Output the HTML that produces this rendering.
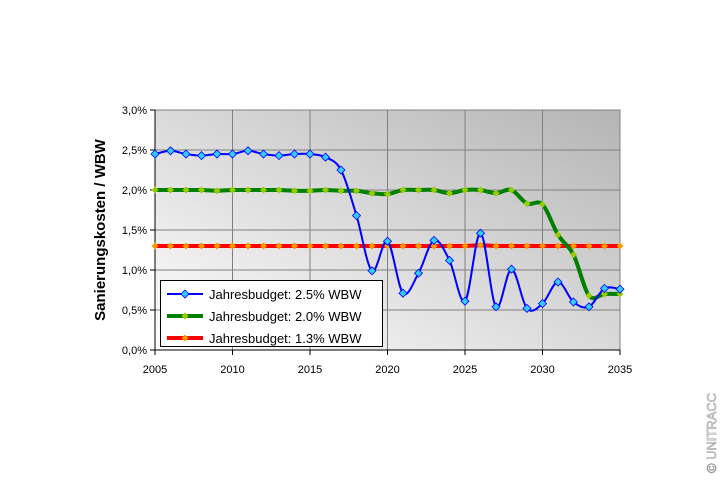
<!DOCTYPE html>
<html><head><meta charset="utf-8"><style>
body{margin:0;background:#fff}
svg{display:block;font-family:"Liberation Sans",Arial,sans-serif}
</style></head><body>
<svg id="s" width="720" height="480" xmlns="http://www.w3.org/2000/svg">
<defs>
<linearGradient id="bg" x1="0" y1="1" x2="1" y2="0">
<stop offset="0" stop-color="#ffffff"/><stop offset="1" stop-color="#b4b4b4"/>
</linearGradient>
</defs>
<rect x="155" y="110" width="465" height="240" fill="url(#bg)"/>
<g id="grid" stroke="#808080" stroke-width="1"></g>
<rect x="155" y="110" width="465" height="240" fill="none" stroke="#808080"/>
<g id="axes" font-size="11" fill="#000"></g>
<g id="series"></g>
<text transform="translate(105,230) rotate(-90)" text-anchor="middle" font-size="15" font-weight="bold">Sanierungskosten / WBW</text>
<rect x="160.5" y="280.5" width="222" height="66" fill="#fff" stroke="#000"/>
<g font-size="13">
<line x1="167" y1="294" x2="203" y2="294" stroke="#0000ff" stroke-width="2"/><path d="M185 290 L189 294 L185 298 L181 294Z" fill="#33ccff" stroke="#0000ff" stroke-width="0.8"/>
<text x="209" y="299">Jahresbudget: 2.5% WBW</text>
<line x1="167" y1="316" x2="203" y2="316" stroke="#008000" stroke-width="4"/><path d="M185 312.5 L188.5 316 L185 319.5 L181.5 316Z" fill="#99cc00"/>
<text x="209" y="321">Jahresbudget: 2.0% WBW</text>
<line x1="167" y1="338" x2="203" y2="338" stroke="#ff0000" stroke-width="4"/><path d="M185 334.5 L188.5 338 L185 341.5 L181.5 338Z" fill="#ff9900"/>
<text x="209" y="343">Jahresbudget: 1.3% WBW</text>
</g>
<text transform="translate(716,473) rotate(-90)" font-size="13" fill="#fff" stroke="#999" stroke-width="0.6" textLength="80">© UNITRACC</text>
</svg>
<script>
const X=y=>155+(y-2005)*15.5, Y=v=>350-v*80, NS="http://www.w3.org/2000/svg";
function el(p,t,a,txt){const e=document.createElementNS(NS,t);for(const k in a)e.setAttribute(k,a[k]);if(txt!=null)e.textContent=txt;p.appendChild(e);return e;}
const g=document.getElementById('grid'),ax=document.getElementById('axes'),s=document.getElementById('series');
for(let i=1;i<6;i++){el(g,'line',{x1:155,x2:620,y1:Y(i*0.5),y2:Y(i*0.5)});}
for(let yr=2010;yr<2035;yr+=5)el(g,'line',{x1:X(yr),x2:X(yr),y1:110,y2:350});
for(let i=0;i<=6;i++){const y=Y(i*0.5);el(ax,'line',{x1:150,x2:155,y1:y,y2:y,stroke:'#000'});el(ax,'text',{x:147,y:y+4,'text-anchor':'end'},(i*0.5).toFixed(1).replace('.',',')+'%');}
el(ax,'line',{x1:155,x2:155,y1:110,y2:350,stroke:'#000'});el(ax,'line',{x1:155,x2:620,y1:350,y2:350,stroke:'#000'});
for(let yr=2005;yr<=2035;yr+=5){el(ax,'line',{x1:X(yr),x2:X(yr),y1:350,y2:355,stroke:'#000'});el(ax,'text',{x:X(yr),y:373,'text-anchor':'middle'},yr);}
const blue=[2.45,2.49,2.45,2.43,2.45,2.45,2.49,2.45,2.43,2.45,2.45,2.41,2.25,1.68,0.99,1.36,0.71,0.96,1.37,1.12,0.61,1.46,0.54,1.01,0.52,0.58,0.85,0.60,0.54,0.77,0.76];
const green=[2,2,2,2,1.99,2,2,2,2,1.99,1.99,2,1.99,1.99,1.96,1.95,2,2,2,1.96,2,2,1.96,2,1.83,1.82,1.44,1.19,0.68,0.7,0.7];
const red=blue.map((_,i)=>i==21?1.31:1.3);
function path(d){const p=d.map((v,i)=>[X(2005+i),Y(v)]);let s=`M${p[0]}`;for(let i=0;i<p.length-1;i++){const a=p[Math.max(i-1,0)],b=p[i],c=p[i+1],e=p[Math.min(i+2,p.length-1)];const t=6;s+=`C${b[0]+(c[0]-a[0])/t},${b[1]+(c[1]-a[1])/t} ${c[0]-(e[0]-b[0])/t},${c[1]-(e[1]-b[1])/t} ${c[0]},${c[1]}`;}return [s,p];}
function series(d,col,w,mf,ms,mst){const [pd,p]=path(d);el(s,'path',{d:pd,fill:'none',stroke:col,'stroke-width':w});p.forEach(([x,y])=>el(s,'path',{d:`M${x} ${y-ms}L${x+ms} ${y}L${x} ${y+ms}L${x-ms} ${y}Z`,fill:mf,stroke:mst||'none','stroke-width':0.8}));}
series(red,'#ff0000',4,'#ff9900',3.5);
series(green,'#008000',4,'#99cc00',3.5);
series(blue,'#0000ff',2,'#33ccff',4,'#0000ff');
</script>
</body></html>
